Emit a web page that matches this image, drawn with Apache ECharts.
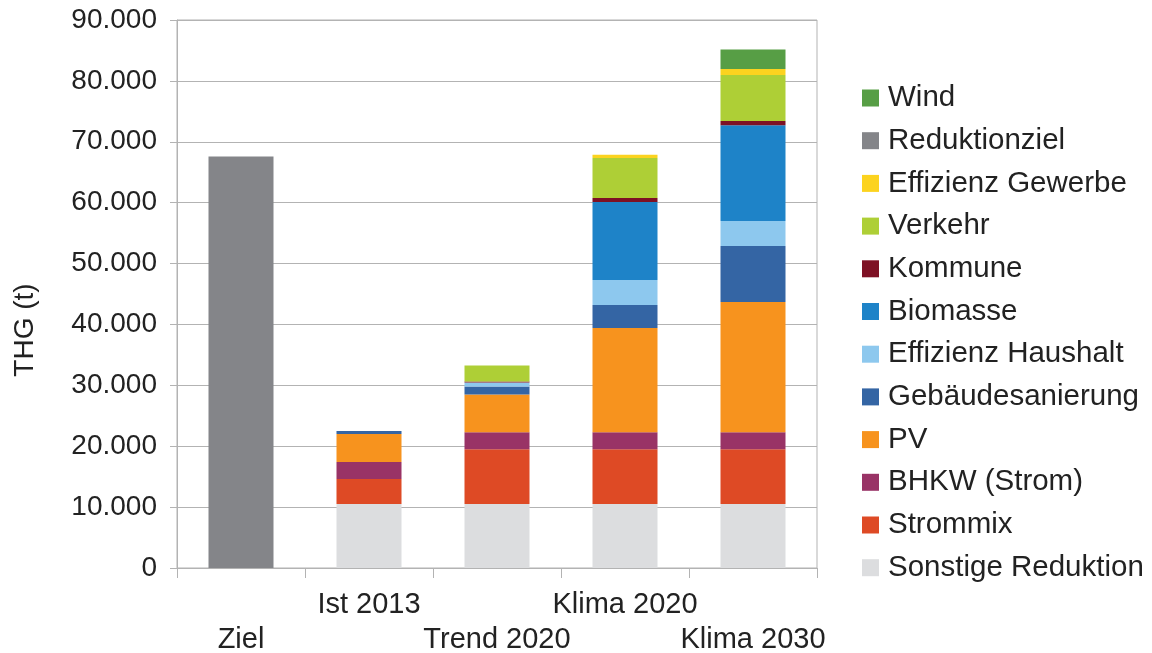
<!DOCTYPE html>
<html><head><meta charset="utf-8">
<script src="https://cdn.jsdelivr.net/npm/echarts@6/dist/echarts.min.js"></script>
<style>html,body{margin:0;padding:0;background:#fff}#c{width:1152px;height:653px}</style>
</head><body><div id="c"></div>
<script>
const categories = ['Ziel','Ist 2013','Trend 2020','Klima 2020','Klima 2030'];
const sonstige      = ['-',10500,10500,10500,10500];
const strommix      = ['-',4100,9000,9000,9000];
const bhkw          = ['-',2800,2800,2800,2800];
const pv            = ['-',4600,6200,17100,21400];
const gebaeude      = ['-',500,1300,3800,9200];
const effHaushalt   = ['-','-',650,4100,4100];
const biomasse      = ['-','-','-',12800,15700];
const kommune       = ['-','-',200,650,700];
const verkehr       = ['-','-',2600,6600,7550];
const effGewerbe    = ['-','-','-',500,1000];
const reduktionziel = [67600,'-','-','-','-'];
const wind          = ['-','-','-','-',3200];
const yTicks = [0,10000,20000,30000,40000,50000,60000,70000,80000,90000];

const seriesDefs = [
  ['Sonstige Reduktion', sonstige, '#dcdddf'],
  ['Strommix', strommix, '#de4a25'],
  ['BHKW (Strom)', bhkw, '#993366'],
  ['PV', pv, '#f7931e'],
  ['Gebäudesanierung', gebaeude, '#3465a4'],
  ['Effizienz Haushalt', effHaushalt, '#8dc8ee'],
  ['Biomasse', biomasse, '#1e83c8'],
  ['Kommune', kommune, '#7e1124'],
  ['Verkehr', verkehr, '#aecf36'],
  ['Effizienz Gewerbe', effGewerbe, '#fcd31f'],
  ['Reduktionziel', reduktionziel, '#848589'],
  ['Wind', wind, '#579e45']
];
const FONT = 'Liberation Sans';
const TXT = '#222222';
const chart = echarts.init(document.getElementById('c'), null, {renderer:'canvas'});
chart.setOption({
  animation:false,
  textStyle:{fontFamily:FONT},
  grid:{left:177,right:335,top:20,bottom:85,outerBoundsMode:'none',containLabel:false,
        show:true,borderColor:'#b3b3b3',borderWidth:1,backgroundColor:'transparent'},
  legend:{
    orient:'vertical', left:862, top:83, padding:0, itemGap:12.7, itemWidth:17, itemHeight:17, icon:'rect',
    data: seriesDefs.map(d=>d[0]).reverse(),
    textStyle:{fontFamily:FONT,fontSize:29.5,color:TXT,lineHeight:30,padding:[0,0,0,4]}
  },
  xAxis:{
    type:'category', data:categories,
    axisLine:{lineStyle:{color:'#b3b3b3',width:1}},
    axisTick:{show:true,length:10,lineStyle:{color:'#b3b3b3'}},
    axisLabel:{interval:0,margin:19,fontFamily:FONT,fontSize:29,color:TXT,lineHeight:35,
      formatter:(v,i)=> (i%2===1? v : '\n'+v)}
  },
  yAxis:{
    type:'value', min:0, max:90000, interval:10000,
    name:'THG (t)', nameLocation:'middle', nameGap:138, nameRotate:90,
    nameTextStyle:{fontFamily:FONT,fontSize:28,color:TXT,padding:[0,72,0,0]},
    axisLine:{show:true,lineStyle:{color:'#b3b3b3'}},
    axisTick:{show:true,length:7,lineStyle:{color:'#b3b3b3'}},
    splitLine:{lineStyle:{color:'#b3b3b3',width:1}},
    axisLabel:{margin:20,fontFamily:FONT,fontSize:28,color:TXT,
      formatter:v=> yTicks.includes(v) ? (v===0?'0':(v/1000)+'.000') : ''}
  },
  series: seriesDefs.map(d=>({
    name:d[0], type:'bar', stack:'total', data:d[1], barWidth:65,
    itemStyle:{color:d[2]}, emphasis:{disabled:true}
  }))
});
</script></body></html>
